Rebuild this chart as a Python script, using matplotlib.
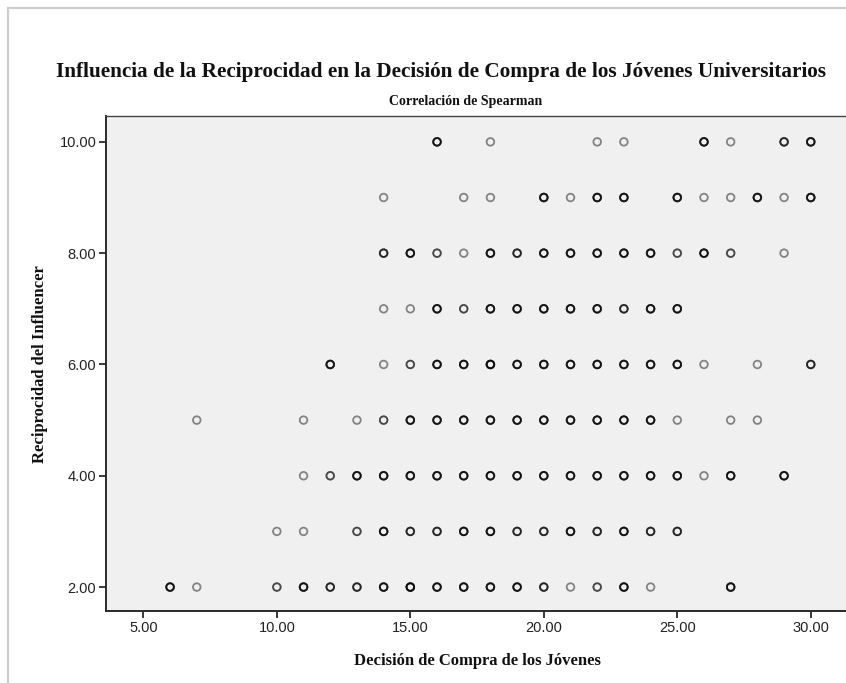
import matplotlib.pyplot as plt
from matplotlib.patches import Rectangle

# x values (Decision de Compra) present on each level of Reciprocidad,
# with an estimated number of overlapping cases (1 light, 2 medium, 4 dark)
row_levels = [10, 9, 8, 7, 6, 5, 4, 3, 2]
row_x = {
    10: [16, 18, 22, 23, 26, 27, 29, 30],
    9: [14, 17, 18, 20, 21, 22, 23, 25, 26, 27, 28, 29, 30],
    8: [14, 15, 16, 17, 18, 19, 20, 21, 22, 23, 24, 25, 26, 27, 29],
    7: [14, 15, 16, 17, 18, 19, 20, 21, 22, 23, 24, 25],
    6: [12, 14, 15, 16, 17, 18, 19, 20, 21, 22, 23, 24, 25, 26, 28, 30],
    5: [7, 11, 13, 14, 15, 16, 17, 18, 19, 20, 21, 22, 23, 24, 25, 27, 28],
    4: [11, 12, 13, 14, 15, 16, 17, 18, 19, 20, 21, 22, 23, 24, 25, 26, 27, 29],
    3: [10, 11, 13, 14, 15, 16, 17, 18, 19, 20, 21, 22, 23, 24, 25],
    2: [6, 7, 10, 11, 12, 13, 14, 15, 16, 17, 18, 19, 20, 21, 22, 23, 24, 27],
}
row_n = {
    10: [4, 1, 1, 1, 4, 1, 3, 4],
    9: [1, 1, 1, 4, 1, 4, 4, 4, 1, 1, 4, 1, 4],
    8: [3, 4, 2, 1, 4, 3, 4, 4, 4, 4, 4, 2, 4, 2, 1],
    7: [1, 1, 4, 2, 4, 4, 4, 4, 4, 3, 4, 4],
    6: [4, 1, 2, 4, 4, 5, 4, 4, 4, 4, 4, 4, 4, 1, 1, 3],
    5: [1, 1, 1, 2, 4, 4, 4, 4, 4, 4, 4, 4, 4, 4, 1, 1, 1],
    4: [1, 2, 4, 4, 4, 4, 4, 4, 4, 4, 4, 4, 4, 4, 4, 1, 4, 4],
    3: [1, 1, 2, 4, 3, 3, 4, 4, 3, 3, 4, 3, 4, 3, 3],
    2: [4, 1, 2, 4, 3, 3, 4, 5, 4, 4, 4, 4, 3, 1, 2, 4, 1, 4],
}

x_ticks = [5, 10, 15, 20, 25, 30]
y_ticks = [2, 4, 6, 8, 10]

title = "Influencia de la Reciprocidad en la Decisión de Compra de los Jóvenes Universitarios"
subtitle = "Correlación de Spearman"
x_label = "Decisión de Compra de los Jóvenes"
y_label = "Reciprocidad del Influencer"

fig = plt.figure(figsize=(8.46, 6.83), dpi=100)
fig.patch.set_facecolor("white")

# light frame around the pasted chart
fig.patches.append(Rectangle((8 / 846, -0.1), 1.2, 1.1 - 8 / 683, transform=fig.transFigure,
                             fill=False, edgecolor="#cfcfcf", linewidth=1.6))

ax = fig.add_axes([106 / 846, 1 - 611 / 683, 1 - 106 / 846, (611 - 115.7) / 683])
ax.set_facecolor("#f0f0f0")

for lvl in row_levels:
    for xv, n in zip(row_x[lvl], row_n[lvl]):
        for k in range(n):
            ax.scatter([xv], [lvl], s=30, facecolors="none", edgecolors="black",
                       linewidths=1.3, alpha=0.45, zorder=3)

ax.set_xlim(3.6, 31.32)
ax.set_ylim(1.57, 10.47)
ax.set_xticks(x_ticks)
ax.set_xticklabels(["%.2f" % v for v in x_ticks])
ax.set_yticks(y_ticks)
ax.set_yticklabels(["%.2f" % v for v in y_ticks])

for s in ["left", "bottom"]:
    ax.spines[s].set_linewidth(1.4)
    ax.spines[s].set_color("#2a2a2a")
ax.spines["top"].set_linewidth(1.0)
ax.spines["top"].set_color("#444444")
ax.spines["right"].set_visible(False)

ax.tick_params(direction="out", length=5, width=1.3, color="#2a2a2a",
               labelsize=10.5, labelcolor="#222222", pad=2)
for lab in ax.get_xticklabels() + ax.get_yticklabels():
    lab.set_family("Liberation Sans")

serif = {"family": "Liberation Serif", "weight": "bold", "color": "#111111"}
fig.text(441 / 846, 1 - 72 / 683, title, ha="center", va="center", fontsize=15.3, **serif)
fig.text(466 / 846, 1 - 101 / 683, subtitle, ha="center", va="center", fontsize=10, **serif)
fig.text(477 / 846, 1 - 661 / 683, x_label, ha="center", va="center", fontsize=12, **serif)
fig.text(40 / 846, 1 - 364 / 683, y_label, ha="center", va="center", rotation=90,
         fontsize=12, **serif)

fig.savefig("out.png", dpi=100)
